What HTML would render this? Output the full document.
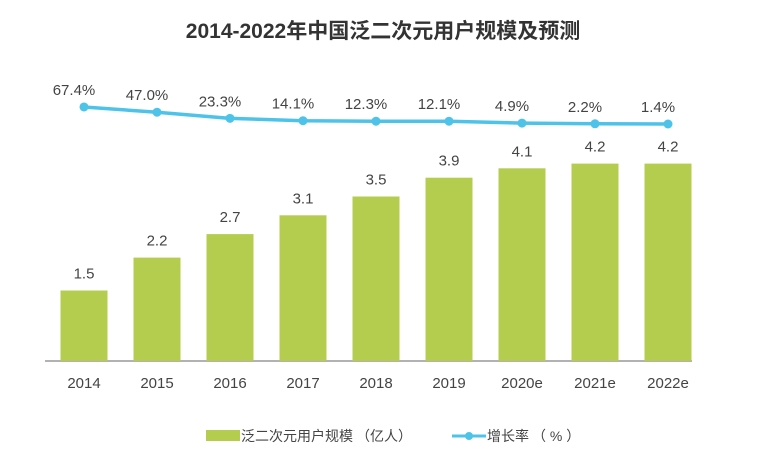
<!DOCTYPE html>
<html><head><meta charset="utf-8"><style>
body{margin:0;background:#fff;}
svg{display:block;font-family:"Liberation Sans","Noto Sans CJK SC",sans-serif;}
</style></head><body>
<svg width="764" height="463">
<text x="383" y="38" text-anchor="middle" font-size="21" font-weight="bold" fill="#333">2014-2022年中国泛二次元用户规模及预测</text>
<line x1="45" y1="361" x2="692" y2="361" stroke="#999" stroke-width="1.5"/>
<g id="bars"></g><g id="line"></g><g id="xt"></g>
<g>
<rect x="206" y="430" width="34" height="11" fill="#b5cd4e"/>
<text x="241" y="441" font-size="14" fill="#444">泛二次元用户规模<tspan dx="3">（</tspan>亿人<tspan>）</tspan></text>
<line x1="452" y1="436" x2="486" y2="436" stroke="#4dc3ea" stroke-width="3"/>
<circle cx="469" cy="436" r="4" fill="#4dc3ea"/>
<text x="487" y="441" font-size="14" fill="#444">增长率<tspan dx="3">（</tspan> % <tspan>）</tspan></text>
</g>
</svg>
<script>
const categories=["2014","2015","2016","2017","2018","2019","2020e","2021e","2022e"];
const users=[1.5,2.2,2.7,3.1,3.5,3.9,4.1,4.2,4.2];
const growth=[67.4,47.0,23.3,14.1,12.3,12.1,4.9,2.2,1.4];
const ns="http://www.w3.org/2000/svg";
const xc=i=>84+i*73;
const yb=v=>361-v*47;
const yl=v=>124-(v-1.4)*0.258;
function mk(t,a,p){const e=document.createElementNS(ns,t);for(const k in a)e.setAttribute(k,a[k]);p.appendChild(e);return e;}
const B=document.getElementById('bars'),L=document.getElementById('line'),X=document.getElementById('xt');
users.forEach((v,i)=>{
 const r=mk('rect',{x:xc(i)-23.5,y:yb(v),width:47,height:361-yb(v),fill:'#b5cd4e'},B);
 
 
 const t=mk('text',{x:xc(i),y:yb(v)-12,'text-anchor':'middle','font-size':15,fill:'#444'},B);
 t.textContent=v.toFixed(1);
 
 
 const xl=mk('text',{x:xc(i),y:388,'text-anchor':'middle','font-size':15,fill:'#444'},X);
 xl.textContent=categories[i];
 
 
});
const pl=mk('polyline',{points:growth.map((v,i)=>xc(i)+','+yl(v)).join(' '),fill:'none',stroke:'#4dc3ea','stroke-width':3.5},L);


growth.forEach((v,i)=>{
 const c=mk('circle',{cx:xc(i),cy:yl(v),r:4.5,fill:'#4dc3ea'},L);
 
 
 const t=mk('text',{x:xc(i)-10,y:yl(v)-12,'text-anchor':'middle','font-size':15,fill:'#444'},L);
 t.textContent=v.toFixed(1)+'%';
 
 
});
</script>
</body></html>
